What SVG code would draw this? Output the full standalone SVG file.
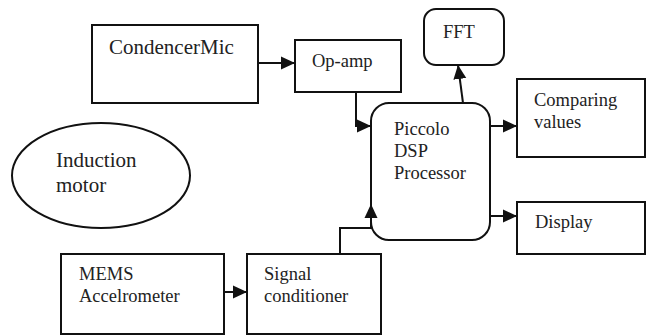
<svg xmlns="http://www.w3.org/2000/svg" width="648" height="336" viewBox="0 0 648 336">
<defs>
<marker id="ah" markerUnits="userSpaceOnUse" markerWidth="16" markerHeight="16" viewBox="0 0 16 16" refX="14" refY="8" orient="auto">
<path d="M0,1.5 L14,8 L0,14.5 Z" fill="#111"/>
</marker>
<style>
.box{fill:#fff;stroke:#111;stroke-width:2}
.t{font-family:'Liberation Serif','DejaVu Serif',serif;font-size:18.5px;fill:#222}
.big{font-size:21px}
.c{fill:none;stroke:#111;stroke-width:2;marker-end:url(#ah)}
</style>
</defs>
<rect width="648" height="336" fill="#fff"/>
<g id="mic"><rect class="box" x="92" y="25" width="166" height="78"/><text class="t big" x="109" y="54">CondencerMic</text></g>
<g id="opamp"><rect class="box" x="295" y="40" width="106" height="52"/><text class="t" x="312" y="67">Op-amp</text></g>
<g id="fft"><rect class="box" x="424" y="9" width="80" height="56" rx="12"/><text class="t" x="443" y="38">FFT</text></g>
<g id="dsp"><rect class="box" x="371" y="103" width="119" height="137" rx="18"/><text class="t" x="394" y="135">Piccolo</text><text class="t" x="394" y="157">DSP</text><text class="t" x="394" y="179">Processor</text></g>
<g id="compare"><rect class="box" x="517" y="79" width="128" height="78"/><text class="t" x="534" y="106">Comparing</text><text class="t" x="534" y="128">values</text></g>
<g id="display"><rect class="box" x="517" y="202" width="128" height="52"/><text class="t" x="535" y="228">Display</text></g>
<g id="motor"><ellipse class="box" cx="101" cy="175.5" rx="89" ry="52.5"/><text class="t big" x="56" y="167">Induction</text><text class="t big" x="56" y="192">motor</text></g>
<g id="mems"><rect class="box" x="61" y="254" width="163" height="80"/><text class="t" x="79" y="280">MEMS</text><text class="t" x="79" y="302">Accelrometer</text></g>
<g id="signal"><rect class="box" x="247" y="254" width="134" height="80"/><text class="t" x="264" y="280">Signal</text><text class="t" x="264" y="302">conditioner</text></g>
<g id="connectors">
<path class="c" d="M258,63 L295,63"/>
<path class="c" d="M356,92 L356,126 L371,126"/>
<path class="c" d="M463,103 L458,65"/>
<path class="c" d="M490,126 L517,126"/>
<path class="c" d="M490,216 L517,216"/>
<path class="c" d="M224,292 L247,292"/>
<path class="c" d="M340,254 L340,228 L371,228 L371,204"/>
</g>
</svg>
